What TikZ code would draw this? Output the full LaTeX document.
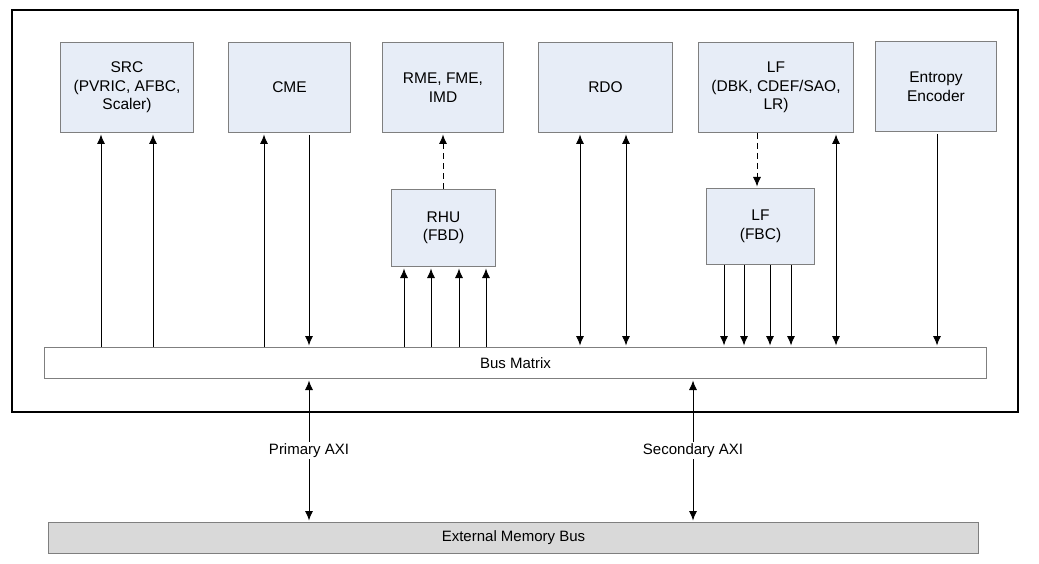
\documentclass[tikz,border=0pt]{standalone}
\usepackage{fontspec}
\setmainfont{Liberation Sans}
\usetikzlibrary{arrows.meta,positioning}
\definecolor{boxfill}{HTML}{E7EDF7}
\definecolor{boxline}{HTML}{7F7F7F}
\definecolor{extfill}{HTML}{D9D9D9}
\tikzset{
  blk/.style={draw=boxline, line width=1pt, fill=boxfill, anchor=north west, align=center, inner sep=0pt, font=\fontsize{15.5}{18.5}\selectfont},
  busbox/.style={draw=boxline, line width=1pt, anchor=north west, align=center, inner sep=0pt, font=\fontsize{15}{18}\selectfont},
  arr/.style={line width=0.9pt, -{Latex[length=9.5pt,width=8pt]}, shorten >=1.5pt},
  darr/.style={line width=0.9pt, {Latex[length=9.5pt,width=8pt]}-{Latex[length=9.5pt,width=8pt]}, shorten >=1.5pt, shorten <=1.5pt},
  dasharr/.style={line width=0.9pt, dash pattern=on 6pt off 4pt, -{Latex[length=9.5pt,width=8pt]}, shorten >=1.5pt},
  lbl/.style={fill=white, inner sep=2pt, font=\fontsize{15}{18}\selectfont}
}
\begin{document}
\begin{tikzpicture}[x=1pt,y=-1pt]
\useasboundingbox (0,0) rectangle (1039,564);
\node[draw=black, line width=2pt, anchor=north west, minimum width=1006pt, minimum height=402pt, inner sep=0pt] (frame) at (11,9) {};

\node[blk, minimum width=133pt, minimum height=90pt] (src) at (60,42) {SRC\\(PVRIC, AFBC,\\Scaler)};
\node[blk, minimum width=122pt, minimum height=90pt] (cme) at (228,42) {CME};
\node[blk, minimum width=121pt, minimum height=90pt] (rme) at (382,42) {RME, FME,\\IMD};
\node[blk, minimum width=134pt, minimum height=90pt] (rdo) at (538,42) {RDO};
\node[blk, minimum width=155pt, minimum height=90pt] (lf) at (698,42) {LF\\(DBK, CDEF/SAO,\\LR)};
\node[blk, minimum width=121pt, minimum height=90pt] (ent) at (875,41) {Entropy\\Encoder};
\node[blk, minimum width=104pt, minimum height=77pt] (rhu) at (391,189) {RHU\\(FBD)};
\node[blk, minimum width=108pt, minimum height=76pt] (fbc) at (706,188) {LF\\(FBC)};

\node[busbox, fill=white, minimum width=942pt, minimum height=31pt] (bus) at (44,347) {Bus Matrix};
\node[busbox, fill=extfill, minimum width=930pt, minimum height=31pt] (ext) at (48,522) {External Memory Bus};

% SRC
\draw[arr] (101,0 |- bus.north) -- (101,0 |- src.south);
\draw[arr] (153,0 |- bus.north) -- (153,0 |- src.south);
% CME
\draw[arr] ([yshift=-2pt]309,0 |- cme.south) -- (309,0 |- bus.north);
\draw[arr] (264,0 |- bus.north) -- (264,0 |- cme.south);
% RHU
\foreach \x in {404,431,459,486} \draw[arr] (\x,0 |- bus.north) -- (\x,0 |- rhu.south);
\draw[dasharr] (443,0 |- rhu.north) -- (443,0 |- rme.south);
% RDO
\draw[darr] (580,0 |- bus.north) -- (580,0 |- rdo.south);
\draw[darr] (626,0 |- bus.north) -- (626,0 |- rdo.south);
% LF
\draw[dasharr] (757,0 |- lf.south) -- (757,0 |- fbc.north);
\foreach \x in {724,744,770,791} \draw[arr] (\x,0 |- fbc.south) -- (\x,0 |- bus.north);
\draw[darr] (836,0 |- bus.north) -- (836,0 |- lf.south);
% Entropy
\draw[arr] ([yshift=-2pt]937,0 |- ent.south) -- (937,0 |- bus.north);
% AXI
\draw[darr] (309,0 |- bus.south) -- node[lbl] (pax) {Primary AXI} (309,0 |- ext.north);
\draw[darr] (693,0 |- bus.south) -- node[lbl] (sax) {Secondary AXI} (693,0 |- ext.north);
\end{tikzpicture}
\end{document}
